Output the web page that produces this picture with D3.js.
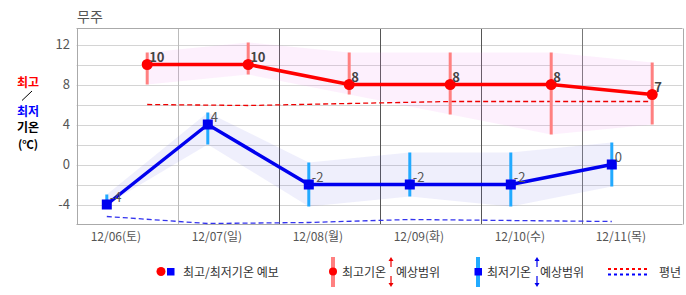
<!DOCTYPE html>
<head>
  <meta charset="utf-8">
  <script src="https://cdn.jsdelivr.net/npm/d3@7"></script>
  <style>
    body { margin:0; background:#fff; }
    text { font-family: "Noto Sans CJK KR", sans-serif; }
  </style>
</head>
<body>
<script>
var width = 686, height = 295;

// data
var days = ["12/06(토)", "12/07(일)", "12/08(월)", "12/09(화)", "12/10(수)", "12/11(목)"];
var maxTemp = [10, 10, 8, 8, 8, 7];
var maxHigh = [11.2, 12.2, 11.2, 11.2, 11.2, 10.2];
var maxLow  = [8, 9, 7, 5, 3, 4];
var minTemp = [-4, 4, -2, -2, -2, 0];
var minHigh = [-3, 5.2, 0.2, 1.2, 1.2, 2.2];
var minLow  = [-4, 2, -4.2, -3.2, -4.2, -2.2];
var normMax = [6.0, 5.9, 6.1, 6.3, 6.3, 6.3];
var normMin = [-5.2, -5.9, -5.8, -5.5, -5.6, -5.7];
var yTicks = [-4, 0, 4, 8, 12];

var svg = d3.select("body").append("svg")
  .attr("width", width).attr("height", height);

// x in day units, min at ~7h, max at ~16h
var x = d3.scaleLinear().domain([0, 6]).range([76.5, 682.5]);
var y = d3.scaleLinear().domain([-6, 13.6]).range([224.5, 28.5]);
var minX = function(i) { return x(i + 0.3); };
var maxX = function(i) { return x(i + 0.7); };

// horizontal grid
var grid = d3.range(-4, 13, 2);
svg.append("g").selectAll("line").data(grid).enter().append("line")
  .attr("x1", x(0)).attr("x2", x(6))
  .attr("y1", function(d) { return Math.round(y(d)) + 0.5; })
  .attr("y2", function(d) { return Math.round(y(d)) + 0.5; })
  .attr("stroke", "#d4d4d4");

// day lines
var dayCol = ["#aaa", "#bbb", "#555", "#555", "#555", "#777", "#aaa"];
svg.append("g").selectAll("line").data(d3.range(7)).enter().append("line")
  .attr("x1", function(d) { return Math.round(x(d)) + 0.5; })
  .attr("x2", function(d) { return Math.round(x(d)) + 0.5; })
  .attr("y1", y.range()[1]).attr("y2", y.range()[0])
  .attr("stroke", function(d) { return dayCol[d]; });

svg.append("line").attr("x1", x(0)).attr("x2", x(6)).attr("y1", 28.5).attr("y2", 28.5).attr("stroke", "#aaa");
svg.append("line").attr("x1", x(0)).attr("x2", x(6)).attr("y1", 224.5).attr("y2", 224.5).attr("stroke", "#aaa");

// y tick labels
svg.append("g").selectAll("text").data(yTicks).enter().append("text")
  .attr("x", 70).attr("y", function(d) { return y(d) + 4.5; })
  .attr("text-anchor", "end").attr("fill", "#555").style("font-size", "13px")
  .text(function(d) { return d; });

// x labels
svg.append("g").selectAll("text").data(days).enter().append("text")
  .attr("x", function(d, i) { return x(i + 0.39); }).attr("y", 241)
  .attr("text-anchor", "middle").attr("fill", "#555").style("font-size", "12px")
  .text(function(d) { return d; });

// title
svg.append("text").attr("x", 77).attr("y", 22).attr("fill", "#555")
  .style("font-size", "14px").text("무주");

// left axis label
var lab = svg.append("g").style("font-size", "12px").style("font-weight", "bold").attr("text-anchor", "middle");
lab.append("text").attr("x", 28).attr("y", 87).attr("fill", "#f00").text("최고");
lab.append("line").attr("x1", 22).attr("y1", 100.5).attr("x2", 32).attr("y2", 91).attr("stroke", "#000");
lab.append("text").attr("x", 28).attr("y", 115.5).attr("fill", "#00f").text("최저");
lab.append("text").attr("x", 28).attr("y", 132).attr("fill", "#000").text("기온");
lab.append("text").attr("x", 28).attr("y", 148.5).attr("fill", "#000").style("font-size", "11.5px").text("(℃)");

var idx = d3.range(days.length);

// range bands
svg.append("path").datum(idx)
  .attr("d", d3.area().x(maxX).y0(function(i) { return y(maxLow[i]); }).y1(function(i) { return y(maxHigh[i]); }))
  .attr("fill", "rgba(240,140,240,0.13)");
svg.append("path").datum(idx)
  .attr("d", d3.area().x(minX).y0(function(i) { return y(minLow[i]); }).y1(function(i) { return y(minHigh[i]); }))
  .attr("fill", "rgba(110,110,230,0.11)");

// normals
svg.append("path").datum(idx)
  .attr("d", d3.line().x(maxX).y(function(i) { return y(normMax[i]); }))
  .attr("fill", "none").attr("stroke", "#e00").attr("stroke-width", 1.3).attr("stroke-dasharray", "5,3");
svg.append("path").datum(idx)
  .attr("d", d3.line().x(minX).y(function(i) { return y(normMin[i]); }))
  .attr("fill", "none").attr("stroke", "#33e").attr("stroke-width", 1.3).attr("stroke-dasharray", "5,3");

// range bars
svg.append("g").selectAll("line").data(idx).enter().append("line")
  .attr("x1", maxX).attr("x2", maxX)
  .attr("y1", function(i) { return y(maxHigh[i]); }).attr("y2", function(i) { return y(maxLow[i]); })
  .attr("stroke", "#ff8080").attr("stroke-width", 3);
svg.append("g").selectAll("line").data(idx).enter().append("line")
  .attr("x1", minX).attr("x2", minX)
  .attr("y1", function(i) { return y(minHigh[i]); }).attr("y2", function(i) { return y(minLow[i]); })
  .attr("stroke", "#22aaff").attr("stroke-width", 3);

// forecast lines
svg.append("path").datum(idx)
  .attr("d", d3.line().x(maxX).y(function(i) { return y(maxTemp[i]); }))
  .attr("fill", "none").attr("stroke", "#f00").attr("stroke-width", 3.5);
svg.append("path").datum(idx)
  .attr("d", d3.line().x(minX).y(function(i) { return y(minTemp[i]); }))
  .attr("fill", "none").attr("stroke", "#00e").attr("stroke-width", 3.5);

svg.append("g").selectAll("circle").data(idx).enter().append("circle")
  .attr("cx", maxX).attr("cy", function(i) { return y(maxTemp[i]); })
  .attr("r", 5.5).attr("fill", "#f00");
svg.append("g").selectAll("rect").data(idx).enter().append("rect")
  .attr("x", function(i) { return minX(i) - 5; }).attr("y", function(i) { return y(minTemp[i]) - 5; })
  .attr("width", 10).attr("height", 10).attr("fill", "#00e");

// value labels
svg.append("g").selectAll("text").data(idx).enter().append("text")
  .attr("x", function(i) { return maxX(i) + 2; }).attr("y", function(i) { return y(maxTemp[i]) - 3; })
  .attr("fill", "#444").style("font-size", "13px").style("font-weight", "bold")
  .text(function(i) { return maxTemp[i]; });
svg.append("g").selectAll("text").data(idx).enter().append("text")
  .attr("x", function(i) { return minX(i) + 3; }).attr("y", function(i) { return y(minTemp[i]) - 3; })
  .attr("fill", "#555").style("font-size", "13px")
  .text(function(i) { return minTemp[i]; });

// legend
var lg = svg.append("g").style("font-size", "12px").attr("fill", "#333");
lg.append("circle").attr("cx", 161).attr("cy", 271.5).attr("r", 4.5).attr("fill", "#f00");
lg.append("rect").attr("x", 167).attr("y", 268).attr("width", 7.5).attr("height", 7.5).attr("fill", "#00f");
lg.append("text").attr("x", 183).attr("y", 276.5).text("최고/최저기온 예보");

lg.append("line").attr("x1", 333).attr("x2", 333).attr("y1", 257).attr("y2", 287).attr("stroke", "#ff8080").attr("stroke-width", 4);
lg.append("circle").attr("cx", 333).attr("cy", 271.5).attr("r", 4).attr("fill", "#f00");
lg.append("text").attr("x", 342).attr("y", 276.5).text("최고기온");
lg.append("text").attr("x", 396).attr("y", 276.5).text("예상범위");

lg.append("line").attr("x1", 478).attr("x2", 478).attr("y1", 257).attr("y2", 287).attr("stroke", "#22aaff").attr("stroke-width", 4);
lg.append("rect").attr("x", 474.5).attr("y", 268).attr("width", 7.5).attr("height", 7.5).attr("fill", "#00f");
lg.append("text").attr("x", 487).attr("y", 276.5).text("최저기온");
lg.append("text").attr("x", 540).attr("y", 276.5).text("예상범위");

function arrows(cx, col) {
  lg.append("line").attr("x1", cx).attr("x2", cx).attr("y1", 259).attr("y2", 267).attr("stroke", col).attr("stroke-width", 1.2);
  lg.append("path").attr("d", "M" + (cx - 2.5) + ",261L" + cx + ",257L" + (cx + 2.5) + ",261Z").attr("fill", col);
  lg.append("line").attr("x1", cx).attr("x2", cx).attr("y1", 276).attr("y2", 284).attr("stroke", col).attr("stroke-width", 1.2);
  lg.append("path").attr("d", "M" + (cx - 2.5) + ",283L" + cx + ",287L" + (cx + 2.5) + ",283Z").attr("fill", col);
}
arrows(391, "#e00");
arrows(537, "#00e");

lg.append("line").attr("x1", 608).attr("x2", 647).attr("y1", 269).attr("y2", 269)
  .attr("stroke", "#f00").attr("stroke-width", 2).attr("stroke-dasharray", "3,3");
lg.append("line").attr("x1", 608).attr("x2", 647).attr("y1", 274.5).attr("y2", 274.5)
  .attr("stroke", "#00f").attr("stroke-width", 2).attr("stroke-dasharray", "3,3");
lg.append("text").attr("x", 659).attr("y", 276.5).text("평년");
</script>
</body>
